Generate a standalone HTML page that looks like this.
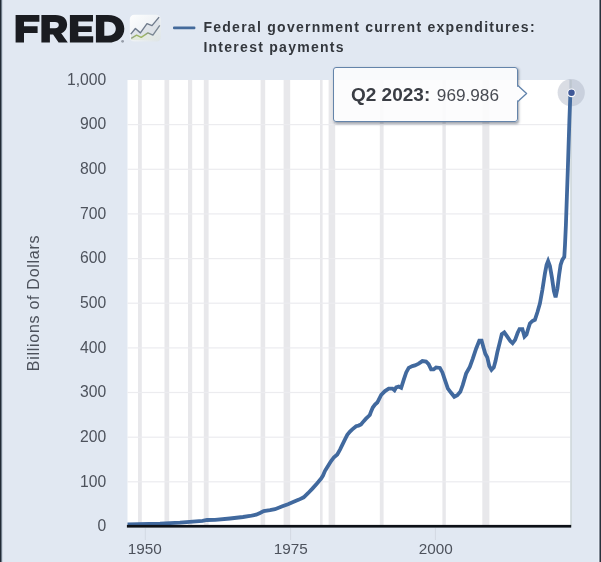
<!DOCTYPE html>
<html><head><meta charset="utf-8"><title>FRED</title>
<style>
html,body{margin:0;padding:0;}
body{width:601px;height:562px;overflow:hidden;background:#e1e8f2;font-family:"Liberation Sans",sans-serif;position:relative;}
#wrap{position:absolute;left:0;top:0;width:601px;height:562px;overflow:hidden;background:#e1e8f2;}
#blur{position:absolute;left:0;top:0;width:601px;height:562px;will-change:transform;}
.bl{position:absolute;left:0;top:0;width:3px;height:562px;background:linear-gradient(90deg,#212b36 0,#212b36 1px,#6f7b89 1px,#6f7b89 2px,#ccd5e0 2px,#ccd5e0 3px);}
.br{position:absolute;left:598px;top:0;width:3px;height:562px;background:linear-gradient(90deg,#e8edf6 0,#e8edf6 1px,#7f8894 1px,#7f8894 2px,#29323d 2px,#29323d 3px);}
svg{position:absolute;left:0;top:0;}
.yl{position:absolute;left:40px;width:66.2px;text-align:right;font-size:15.7px;line-height:18px;color:#4d525c;}
.xl{position:absolute;top:540px;width:60px;text-align:center;font-size:15.3px;line-height:18px;color:#4d525c;}
.ytitle{position:absolute;left:33.5px;top:303px;width:0;height:0;}
.ytitle span{position:absolute;white-space:nowrap;left:-100px;width:200px;top:-10px;height:20px;line-height:20px;text-align:center;font-size:16px;color:#4d525c;transform:rotate(-90deg);letter-spacing:0.72px;}
.leg{position:absolute;left:203.4px;top:17px;font-size:14px;font-weight:bold;line-height:20.1px;color:#33373d;letter-spacing:1.27px;white-space:nowrap;}
.tip{position:absolute;left:333.2px;top:67px;width:185px;height:54.6px;box-sizing:border-box;border:1.3px solid #6484aa;border-radius:3px;background:rgba(252,252,253,0.9);box-shadow:1px 1.5px 2.5px rgba(40,50,70,0.45);}
.tiptxt{position:absolute;left:351px;top:83.5px;height:22px;line-height:22px;white-space:nowrap;color:#3a3d44;}
.tiptxt b{font-size:19px;}
.tiptxt span{font-size:17.2px;margin-left:6.6px;color:#484b53;}
</style></head><body>
<div id="wrap"><div id="blur">
<svg width="601" height="562" viewBox="0 0 601 562">
 <clipPath id="pc"><rect x="126.7" y="60" width="460" height="466"/></clipPath>
 <rect x="127.5" y="80" width="443.1" height="446.5" fill="#ffffff"/>
 <rect x="138" y="80" width="3.8" height="446.5" fill="#e8e8eb"/><rect x="164.5" y="80" width="4.7" height="446.5" fill="#e8e8eb"/><rect x="188" y="80" width="4.2" height="446.5" fill="#e8e8eb"/><rect x="203.8" y="80" width="4.8" height="446.5" fill="#e8e8eb"/><rect x="260.6" y="80" width="4.6" height="446.5" fill="#e8e8eb"/><rect x="283.6" y="80" width="6.6" height="446.5" fill="#e8e8eb"/><rect x="320" y="80" width="2.6" height="446.5" fill="#e8e8eb"/><rect x="328.6" y="80" width="6.6" height="446.5" fill="#e8e8eb"/><rect x="379.8" y="80" width="3.8" height="446.5" fill="#e8e8eb"/><rect x="442.4" y="80" width="3.4" height="446.5" fill="#e8e8eb"/><rect x="482.3" y="80" width="7.1" height="446.5" fill="#e8e8eb"/>
 <rect x="127.5" y="481.2" width="443.1" height="1.2" fill="#ececef"/><rect x="127.5" y="436.6" width="443.1" height="1.2" fill="#ececef"/><rect x="127.5" y="391.9" width="443.1" height="1.2" fill="#ececef"/><rect x="127.5" y="347.3" width="443.1" height="1.2" fill="#ececef"/><rect x="127.5" y="302.6" width="443.1" height="1.2" fill="#ececef"/><rect x="127.5" y="258.0" width="443.1" height="1.2" fill="#ececef"/><rect x="127.5" y="213.3" width="443.1" height="1.2" fill="#ececef"/><rect x="127.5" y="168.7" width="443.1" height="1.2" fill="#ececef"/><rect x="127.5" y="124.0" width="443.1" height="1.2" fill="#ececef"/>
 <rect x="144.8" y="528" width="1" height="12" fill="#d3d9e3"/><rect x="290.1" y="528" width="1" height="12" fill="#d3d9e3"/><rect x="434.9" y="528" width="1" height="12" fill="#d3d9e3"/>
 <rect x="570.2" y="80" width="1.8" height="446.5" fill="#d2dade"/>
 <circle cx="571.2" cy="92.6" r="13.6" fill="#a9b1c1" fill-opacity="0.43"/>
 <path d="M127.5 524.3 L160.0 523.6 L180.0 522.6 L202.5 520.8 L207.0 520.0 L215.0 519.9 L230.0 518.5 L243.0 517.0 L250.0 516.0 L256.2 514.7 L260.0 513.0 L263.7 511.1 L270.0 510.2 L275.0 509.2 L282.4 506.3 L288.0 504.2 L293.7 501.8 L299.0 499.6 L303.7 497.3 L308.0 493.2 L312.4 488.6 L317.0 483.4 L321.1 478.6 L323.0 475.6 L324.9 471.1 L328.0 466.0 L331.1 461.1 L334.0 457.2 L337.3 454.4 L340.0 449.6 L342.3 444.9 L345.0 439.4 L347.3 434.9 L350.0 431.6 L352.3 429.4 L356.1 426.2 L358.5 425.6 L361.0 424.5 L363.5 421.4 L366.0 418.7 L369.8 415.0 L371.2 411.2 L372.8 407.5 L375.0 404.6 L377.3 402.5 L381.2 394.8 L385.0 391.1 L388.7 388.6 L392.5 388.6 L394.5 390.3 L396.2 387.3 L398.7 386.6 L401.2 387.8 L403.7 379.9 L406.2 372.4 L408.7 367.9 L412.4 366.1 L414.9 365.4 L418.7 363.6 L422.4 361.1 L426.1 361.6 L428.6 364.1 L431.1 369.4 L433.6 369.4 L436.1 367.4 L439.9 367.9 L442.4 372.4 L444.9 379.9 L447.9 388.6 L451.1 392.8 L454.3 396.8 L457.3 395.3 L460.3 391.8 L462.8 384.9 L466.1 373.6 L469.8 366.9 L472.8 358.6 L476.1 348.7 L479.3 340.7 L481.6 340.7 L483.5 347.4 L485.3 353.7 L487.3 357.4 L489.3 366.1 L491.5 369.9 L493.8 367.4 L495.5 361.1 L497.3 352.4 L499.8 342.4 L501.8 334.2 L504.3 332.4 L507.3 336.7 L510.3 341.0 L512.6 343.2 L515.1 339.8 L517.6 333.0 L519.5 329.2 L522.4 329.2 L524.5 336.6 L526.5 334.6 L527.9 329.7 L529.9 323.5 L532.4 321.0 L534.9 319.8 L537.4 312.3 L539.9 303.5 L542.4 289.8 L544.9 273.6 L546.6 264.9 L548.1 261.1 L549.9 266.1 L551.9 277.4 L553.9 291.1 L555.6 297.3 L557.4 288.6 L559.1 274.9 L560.6 264.9 L562.3 259.9 L564.3 256.9 L565.0 244.9 L565.9 225.0 L567.8 170.0 L569.4 120.0 L570.3 96.0" fill="none" stroke="#41699e" stroke-width="3.8" stroke-linejoin="miter" stroke-miterlimit="3" stroke-linecap="butt" clip-path="url(#pc)"/>
 <rect x="126.9" y="524.9" width="444.3" height="2.7" fill="#0d1117"/>
 <rect x="569.5" y="79.5" width="1" height="10" fill="#b6bfcd"/>
 <circle cx="571.5" cy="92.8" r="3.8" fill="#3f5897" stroke="#ffffff" stroke-width="1.1"/>
 <!-- legend line -->
 <rect x="173" y="26.6" width="22.4" height="2.7" rx="1" fill="#446a9b"/>
 <!-- FRED logo -->
 <g fill="#1a1c21">
  <path d="M15.6 14.9H39.4V21.7H24V26.3H37.6V32.9H24V42.6H15.6Z"/>
  <path d="M41.4 14.9H55.5C63 14.9 67.1 18.6 67.1 24.4C67.1 28.8 64.8 31.8 61.2 33.2L67.8 42.6H58.6L53.1 34.5H49.9V42.6H41.4ZM49.9 21.9V28.3H55C57.5 28.3 58.8 27.1 58.8 25.1C58.8 23 57.5 21.9 55 21.9Z"/>
  <path d="M69.9 14.9H93V21.5H78.3V26.2H91.7V32H78.3V36.2H93.2V42.6H69.9Z"/>
  <path d="M95.9 14.9H108C118 14.9 124.3 20.6 124.3 28.7C124.3 36.8 118 42.6 108 42.6H95.9ZM104.3 21.8V35.7H108C112.7 35.7 115.8 33 115.8 28.8C115.8 24.6 112.7 21.8 108 21.8Z"/>
 </g>
 <circle cx="122.6" cy="41.3" r="1.4" fill="#8a919c" fill-opacity="0.85"/>
 <!-- icon -->
 <defs>
  <linearGradient id="ig" x1="0" y1="0" x2="1" y2="1"><stop offset="0" stop-color="#fdfefe"/><stop offset="0.45" stop-color="#f1f4f7"/><stop offset="1" stop-color="#dde3e4"/></linearGradient>
  <linearGradient id="gg" gradientUnits="userSpaceOnUse" x1="131" y1="0" x2="160" y2="0"><stop offset="0" stop-color="#dde7cd" stop-opacity="0.75"/><stop offset="0.6" stop-color="#dfe6d8" stop-opacity="0.45"/><stop offset="1" stop-color="#e0e5e2" stop-opacity="0.2"/></linearGradient>
  <linearGradient id="lg" gradientUnits="userSpaceOnUse" x1="131" y1="0" x2="160" y2="0"><stop offset="0" stop-color="#8f9e86"/><stop offset="0.2" stop-color="#9db562"/><stop offset="0.45" stop-color="#9db562"/><stop offset="0.7" stop-color="#7b8794"/><stop offset="1" stop-color="#7b8794"/></linearGradient>
 </defs>
 <rect x="129.8" y="14.8" width="31" height="26.8" rx="4.5" fill="url(#ig)"/>
 <path d="M130.8 34.1L135.4 28.5L140.4 32.9L147 23.7L152 25.6L159.1 17.1L159.8 25.4L152.9 35.1L147.9 32.9L141.2 37.3L136.6 35.1L131.2 38.3Z" fill="#d3d9e0" fill-opacity="0.55"/>
 <path d="M131.2 38.3L136.6 35.1L141.2 37.3L147.9 32.9L152.9 35.1L159.8 25.4V40H131.2Z" fill="url(#gg)"/>
 <path d="M130.8 34.1L135.4 28.5L140.4 32.9L147 23.7L152 25.6L159.1 17.1" fill="none" stroke="#6f7b8c" stroke-width="1.4" stroke-linejoin="round"/>
 <path d="M131.2 38.3L136.6 35.1L141.2 37.3L147.9 32.9L152.9 35.1L159.8 25.4" fill="none" stroke="url(#lg)" stroke-width="1.4" stroke-linejoin="round"/>
</svg>
<div class="leg">Federal government current expenditures:<br>Interest payments</div>
<div class="yl" style="top:517.1px">0</div><div class="yl" style="top:472.5px">100</div><div class="yl" style="top:427.8px">200</div><div class="yl" style="top:383.2px">300</div><div class="yl" style="top:338.5px">400</div><div class="yl" style="top:293.9px">500</div><div class="yl" style="top:249.2px">600</div><div class="yl" style="top:204.5px">700</div><div class="yl" style="top:159.9px">800</div><div class="yl" style="top:115.2px">900</div><div class="yl" style="top:70.6px">1,000</div>
<div class="xl" style="left:114.80000000000001px">1950</div><div class="xl" style="left:260.8px">1975</div><div class="xl" style="left:405.7px">2000</div>
<div class="ytitle"><span>Billions of Dollars</span></div>
<div class="tip"></div>
<svg width="601" height="562" viewBox="0 0 601 562" style="pointer-events:none">
 <path d="M517.8 85.6L526.6 93.6L517.8 101.6" fill="#fcfcfd" stroke="#5f82ab" stroke-width="1.3" stroke-linejoin="round"/>
 <rect x="516.2" y="86.9" width="2.3" height="13.4" fill="#fcfcfd"/>
</svg>
<div class="tiptxt"><b>Q2 2023:</b><span>969.986</span></div>
</div><div class="bl"></div><div class="br"></div>
</div>
</body></html>
